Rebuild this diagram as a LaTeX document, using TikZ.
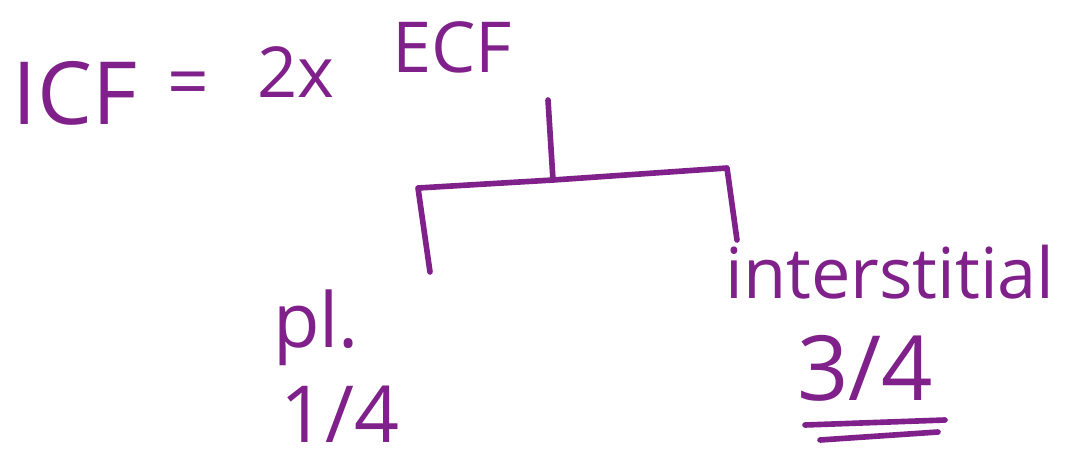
\documentclass[tikz,border=0pt]{standalone}
\usepackage{fontspec}
\setmainfont{Open Sans}
\usetikzlibrary{positioning, calc}
\definecolor{ink}{HTML}{80208A}

\begin{document}
\begin{tikzpicture}[
    x=0.025cm, y=-0.025cm,
    hand/.style={text=ink, inner sep=0pt, font=\fontsize{#1}{#1}\selectfont},
    stroke/.style={draw=ink, line width=4pt, line cap=round, line join=round}
]
\useasboundingbox (0,0) rectangle (1068,460);

% top line
\node[hand=62pt] (icf) at (75,93) {ICF};
\node[hand=52pt] (eq) at (188,90) {=};
\node[hand=50pt] (factor) at (296,72) {2x};
\node[hand=50pt] (ecf) at (452,47) {ECF};

% split of ECF
\coordinate (top) at (548,100);
\coordinate (joint) at (553,180);
\coordinate (lcorner) at (418,188);
\coordinate (rcorner) at (727,168);
\coordinate (lend) at (430,272);
\coordinate (rend) at (737,240);

\draw[stroke] (top) -- (joint);
\draw[stroke] (lend) -- (lcorner) -- (joint) -- (rcorner) -- (rend);

% the two parts
\node[hand=54pt] (pl) at (316,328) {pl.};
\node[hand=56pt] (plfrac) at (340,414) {1/4};
\node[hand=50pt] (inter) at (890,272) {interstitial};
\node[hand=64pt] (interfrac) at (865,368) {3/4};

% double underline
\draw[stroke] ($(interfrac)+(-60,57)$) -- ($(interfrac)+(80,52)$);
\draw[stroke] ($(interfrac)+(-45,72)$) -- ($(interfrac)+(73,64)$);

\end{tikzpicture}
\end{document}
